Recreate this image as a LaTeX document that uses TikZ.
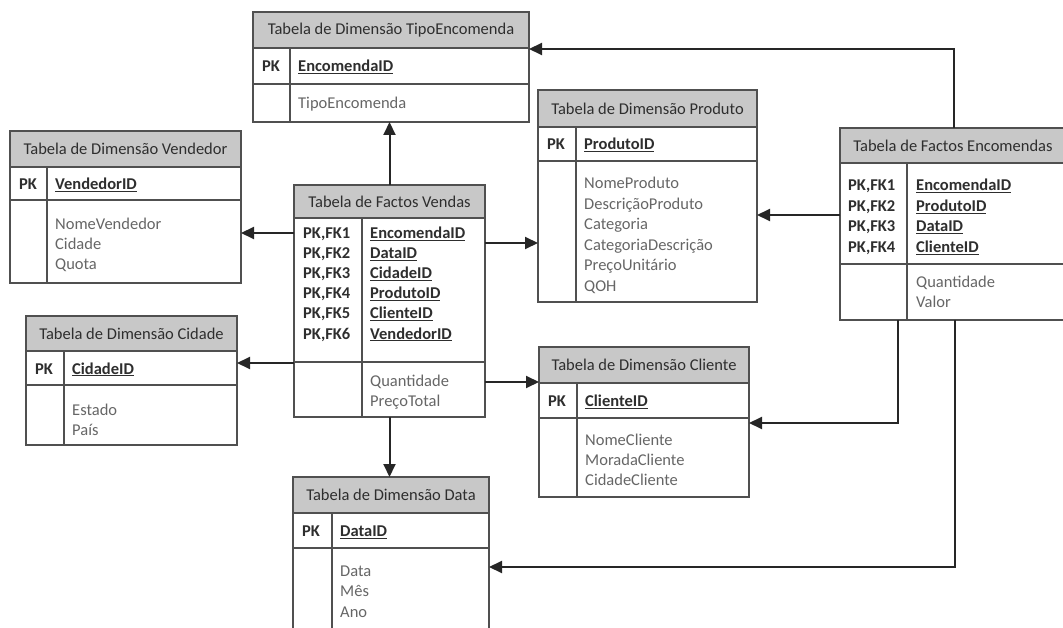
\documentclass[tikz,border=0pt]{standalone}
\usepackage{fontspec}
\setmainfont{Carlito}
\usetikzlibrary{arrows.meta,positioning,calc}
\definecolor{hdrgray}{HTML}{C8C8C8}
\definecolor{linegray}{HTML}{505050}
\definecolor{txtdark}{HTML}{2E2E2E}
\definecolor{txtgray}{HTML}{666666}

\begin{document}
\begin{tikzpicture}[x=1pt, y=-1pt, font=\fontsize{16.5}{20.5}\selectfont,
		box/.style={draw=linegray, line width=1.5pt, inner sep=0pt, outer sep=0pt, anchor=north west},
		hdr/.style={box, fill=hdrgray, text=txtdark},
		row/.style={box, fill=white},
		divider/.style={draw=linegray, line width=1.5pt},
		key/.style={anchor=base west, inner sep=0pt, text=txtdark, font=\fontsize{16.5}{20.5}\selectfont\bfseries},
		fld/.style={anchor=base west, inner sep=0pt, text=txtgray},
		arr/.style={draw=black!85, line width=2pt, -{Triangle[length=13pt,width=12pt]}}]
	\useasboundingbox (0,0) rectangle (1063,628);
	% tables: name/x/y/width/header/key row/attr row/divider/title
	\foreach \n/\x/\y/\w/\hh/\hk/\ha/\d/\title in {
			te/253/12/276/36/36/38/37/Tabela de Dimensão TipoEncomenda,
			vd/10/131/231/36/33/83/37/Tabela de Dimensão Vendedor,
			fv/294/185/191/33/144/55/68/Tabela de Factos Vendas,
			pr/538/90/219/37/34/141/38/Tabela de Dimensão Produto,
			fe/840/128/226/35/101/56/67/Tabela de Factos Encomendas,
			cd/26/316/211/35/34/60/38/Tabela de Dimensão Cidade,
			cl/539/347/210/36/35/79/38/Tabela de Dimensão Cliente,
			dt/293/477/196/36/35/82/39/Tabela de Dimensão Data}{
		\node[hdr, minimum width=\w, minimum height=\hh] (\n-h) at (\x,\y) {\title};
		\node[row, minimum width=\w, minimum height=\hk, below=0pt of \n-h] (\n-k) {};
		\node[row, minimum width=\w, minimum height=\ha, below=0pt of \n-k] (\n-a) {};
		\draw[divider] ($(\n-k.north west)+(\d,0)$) -- ($(\n-a.south west)+(\d,0)$);
	}
	% primary keys
	\foreach \n/\d/\id in {te/37/EncomendaID, vd/37/VendedorID, pr/38/ProdutoID,
			cd/38/CidadeID, cl/38/ClienteID, dt/39/DataID}{
		\node[key] (\n-pk) at ($(\n-k.west)+(9,6)$) {PK};
		\node[key] (\n-id) at ($(\n-k.west)+(\d+8,6)$) {\underline{\id}};
	}
	\foreach \f [count=\i, evaluate=\i as \dy using 21+(\i-1)*20] in {EncomendaID, DataID, CidadeID, ProdutoID, ClienteID, VendedorID}{
		\node[key] (fv-pk\i) at ($(fv-k.north west)+(9,\dy)$) {PK,FK\i};
		\node[key] (fv-id\i) at ($(fv-k.north west)+(76,\dy)$) {\underline{\f}};
	}
	\foreach \f [count=\i, evaluate=\i as \dy using 28+(\i-1)*20.4] in {EncomendaID, ProdutoID, DataID, ClienteID}{
		\node[key] (fe-pk\i) at ($(fe-k.north west)+(8,\dy)$) {PK,FK\i};
		\node[key] (fe-id\i) at ($(fe-k.north west)+(76,\dy)$) {\underline{\f}};
	}
	% attributes
	\node[fld] (te-f1) at ($(te-a.north west)+(45,25)$) {TipoEncomenda};
	\foreach \f [count=\i, evaluate=\i as \dy using 30+(\i-1)*20] in {NomeVendedor, Cidade, Quota}
		\node[fld] (vd-f\i) at ($(vd-a.north west)+(45,\dy)$) {\f};
	\foreach \f [count=\i, evaluate=\i as \dy using 24+(\i-1)*20] in {Quantidade, PreçoTotal}
		\node[fld] (fv-f\i) at ($(fv-a.north west)+(76,\dy)$) {\f};
	\foreach \f [count=\i, evaluate=\i as \dy using 28+(\i-1)*20.5] in {NomeProduto, DescriçãoProduto, Categoria, CategoriaDescrição, PreçoUnitário, QOH}
		\node[fld] (pr-f\i) at ($(pr-a.north west)+(46,\dy)$) {\f};
	\foreach \f [count=\i, evaluate=\i as \dy using 24+(\i-1)*20] in {Quantidade, Valor}
		\node[fld] (fe-f\i) at ($(fe-a.north west)+(76,\dy)$) {\f};
	\foreach \f [count=\i, evaluate=\i as \dy using 30+(\i-1)*20] in {Estado, País}
		\node[fld] (cd-f\i) at ($(cd-a.north west)+(46,\dy)$) {\f};
	\foreach \f [count=\i, evaluate=\i as \dy using 27+(\i-1)*20] in {NomeCliente, MoradaCliente, CidadeCliente}
		\node[fld] (cl-f\i) at ($(cl-a.north west)+(46,\dy)$) {\f};
	\foreach \f [count=\i, evaluate=\i as \dy using 28+(\i-1)*20.5] in {Data, Mês, Ano}
		\node[fld] (dt-f\i) at ($(dt-a.north west)+(47,\dy)$) {\f};
	% connectors
	\draw[arr] (fv-h.north) -- (fv-h.north |- te-a.south);
	\draw[arr] ($(fv-k.north west)+(0,15)$) coordinate (c1) -- (c1 -| vd-a.east);
	\draw[arr] ($(fv-k.north east)+(0,25)$) coordinate (c2) -- (c2 -| pr-a.west);
	\draw[arr] ($(fv-a.north west)+(0,1)$) coordinate (c3) -- (c3 -| cd-k.east);
	\draw[arr] ($(fv-a.north east)+(0,20)$) coordinate (c4) -- (c4 -| cl-h.west);
	\draw[arr] (fv-a.south) -- (fv-a.south |- dt-h.north);
	\draw[arr] ($(fe-h.north west)+(114,0)$) |- ($(te-k.north east)+(0,1)$);
	\draw[arr] ($(fe-k.north west)+(0,52)$) coordinate (c5) -- (c5 -| pr-a.east);
	\draw[arr] ($(fe-a.south west)+(58,0)$) |- ($(cl-a.north east)+(0,5)$);
	\draw[arr] ($(fe-a.south west)+(115,0)$) |- ($(dt-a.north east)+(0,19)$);
\end{tikzpicture}
\end{document}
